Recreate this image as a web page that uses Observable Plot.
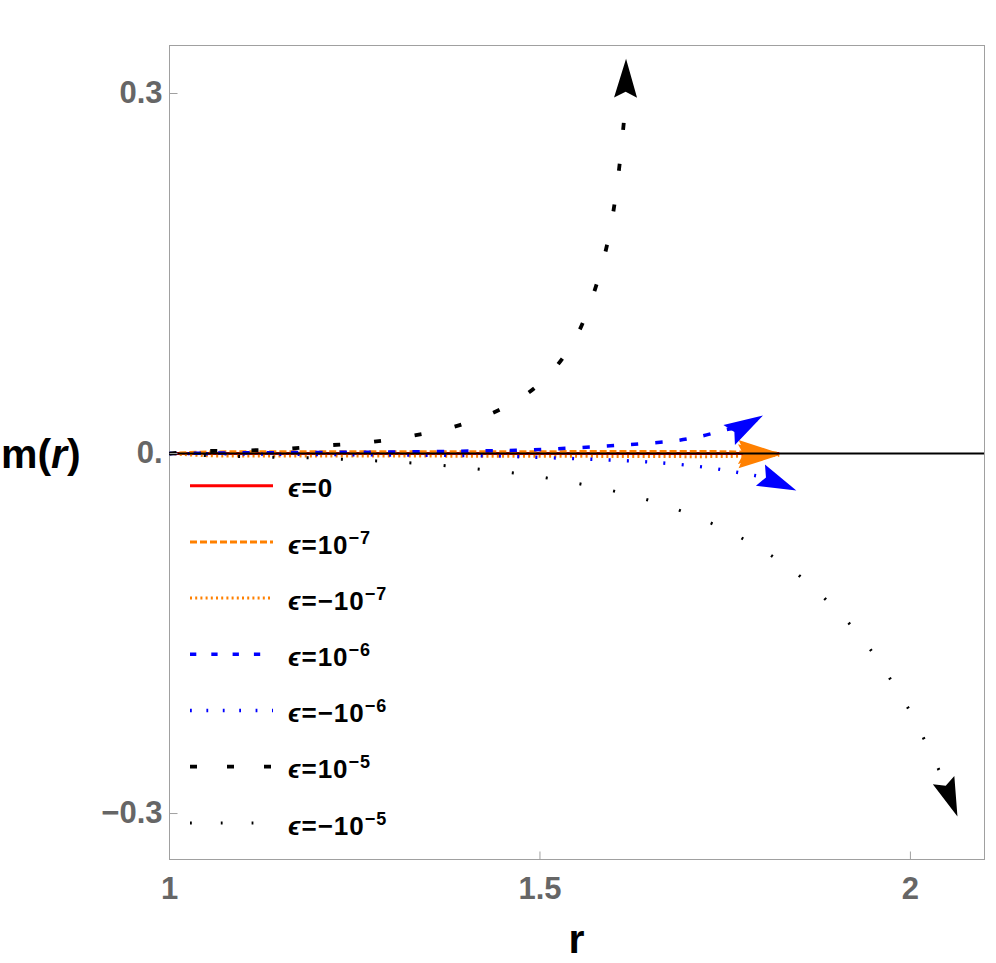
<!DOCTYPE html>
<html><head><meta charset="utf-8">
<script src="https://cdn.jsdelivr.net/npm/d3@7"></script>
<script src="https://cdn.jsdelivr.net/npm/@observablehq/plot@0.6"></script>
<style>
html,body{margin:0;padding:0;background:#fff;}
#chart{width:996px;height:963px;}
svg{display:block;}
</style></head><body><div id="chart"></div>
<script>
// ---- tick values & labels ----
const xTicks = [1, 1.5, 2];
const xTickLabels = ["1", "1.5", "2"];
const yTicks = [-0.3, 0, 0.3];
const yTickLabels = ["\u22120.3", "0.", "0.3"];

// ---- legend ----
const legendBase = ["0", "10", "\u221210", "10", "\u221210", "10", "\u221210"];
const legendExp  = ["", "\u22127", "\u22127", "\u22126", "\u22126", "\u22125", "\u22125"];

// ---- series data (r, m(r)) ----
const r_e0 = [1, 1.823];
const m_e0 = [0, 0];

const r_p7 = [1, 1.05, 1.2, 1.4, 1.6, 1.75, 1.823];
const m_p7 = [0, 0.0012, 0.0014, 0.0015, 0.0016, 0.0015, 0.0003];

const r_n7 = [1, 1.05, 1.2, 1.4, 1.6, 1.75, 1.823];
const m_n7 = [0, -0.0018, -0.002, -0.0022, -0.0024, -0.0025, -0.0015];

const r_p6 = [1, 1.1, 1.2, 1.3, 1.424, 1.489, 1.555, 1.622, 1.687, 1.72, 1.751, 1.776, 1.801];
const m_p6 = [0, 0.0006, 0.0009, 0.0013, 0.0022, 0.003, 0.005, 0.0075, 0.011, 0.0148, 0.0198, 0.0228, 0.0317];

const r_n6 = [1, 1.1, 1.2, 1.3, 1.427, 1.503, 1.577, 1.651, 1.726, 1.775, 1.81, 1.846];
const m_n6 = [0, -0.0004, -0.0008, -0.0012, -0.0019, -0.0033, -0.005, -0.0072, -0.0117, -0.0167, -0.0213, -0.0308];

const r_p5 = [1, 1.046, 1.103, 1.157, 1.212, 1.267, 1.322, 1.375, 1.427, 1.476, 1.517, 1.549, 1.570, 1.586, 1.597, 1.605, 1.611, 1.6155, 1.6162];
const m_p5 = [0, 0.0019, 0.0025, 0.0039, 0.0067, 0.0092, 0.0142, 0.0208, 0.0314, 0.0469, 0.069, 0.0975, 0.129, 0.162, 0.194, 0.228, 0.262, 0.295, 0.329];

const r_n5 = [1, 1.052, 1.100, 1.146, 1.193, 1.240, 1.286, 1.333, 1.380, 1.426, 1.473, 1.519, 1.565, 1.612, 1.657, 1.701, 1.744, 1.785, 1.825, 1.862, 1.896, 1.928, 1.956, 1.981, 2.005, 2.026, 2.045, 2.0635];
const m_n5 = [0, -0.0017, -0.0025, -0.0031, -0.0036, -0.005, -0.0064, -0.0081, -0.0106, -0.0136, -0.0169, -0.0214, -0.0267, -0.0331, -0.0408, -0.0503, -0.0617, -0.0748, -0.0903, -0.108, -0.128, -0.149, -0.172, -0.196, -0.221, -0.248, -0.2725, -0.3025];

// ---- styles ----
const seriesR = [r_e0, r_p7, r_n7, r_p6, r_n6, r_p5, r_n5];
const seriesM = [m_e0, m_p7, m_n7, m_p6, m_n6, m_p5, m_n5];
const seriesColor = ["#ff0000", "#ff8000", "#ff8000", "#0000ff", "#0000ff", "#000000", "#000000"];
const seriesWidth = [3, 3, 3, 3.5, 3.4, 3.8, 3];
const seriesDash = [null, "7,3", "2,3.2", "7.3,17", "2,16.3", "7,34", "2,32.3"];
const legendDash = [null, "7,3", "2,3.2", "6.3,15", "1.8,14.6", "7,30", "1.8,29"];

const tables = seriesR.map((rs, k) => rs.map((r, i) => ({r, m: seriesM[k][i]})));

function arrowSymbol(theta, L = 40, W = 24, N = 6) {
  const c = Math.cos(theta), s = Math.sin(theta);
  const pts = [[0, 0], [-L, -W / 2], [-L + N, 0], [-L, W / 2]].map(([x, y]) => [x * c - y * s, x * s + y * c]);
  return {draw(ctx) { ctx.moveTo(pts[0][0], pts[0][1]); for (let i = 1; i < pts.length; i++) ctx.lineTo(pts[i][0], pts[i][1]); ctx.closePath(); }};
}
const tickLeft = {draw(ctx) { ctx.moveTo(0, 0); ctx.lineTo(8, 0); }};
const tickBottom = {draw(ctx) { ctx.moveTo(0, 0); ctx.lineTo(0, -8); }};

function build(angles) {
  const marks = [];
  tables.forEach((t, k) => {
    marks.push(Plot.line(t, {x: "r", y: "m", stroke: seriesColor[k], strokeWidth: seriesWidth[k],
      strokeDasharray: seriesDash[k] || undefined, strokeLinecap: "butt", strokeLinejoin: "round", curve: "catmull-rom"}));
    if (angles) {
      marks.push(Plot.dot([t[t.length - 1]], {x: "r", y: "m", symbol: arrowSymbol(angles[k], k === 1 || k === 2 ? 41 : 39, k === 1 || k === 2 ? 24 : 23), fill: seriesColor[k], stroke: "none"}));
    }
  });
  return Plot.plot({
    width: 996, height: 963,
    marginLeft: 169, marginRight: 12, marginTop: 45, marginBottom: 104,
    x: {domain: [1, 2.1]},
    y: {domain: [-0.3383, 0.34]},
    style: {fontFamily: "'Liberation Sans', Arial, sans-serif", background: "#fff"},
    marks: [
      Plot.frame({stroke: "#a0a0a0"}),
      Plot.axisX({ticks: xTicks, tickFormat: d => xTickLabels[xTicks.indexOf(d)], tickSize: 0, tickPadding: 17,
        fontSize: 31, fontWeight: "bold", color: "#666", label: null}),
      Plot.axisY({ticks: yTicks, tickFormat: d => yTickLabels[yTicks.indexOf(d)], tickSize: 0, tickPadding: 7,
        fontSize: 31, fontWeight: "bold", color: "#666", label: null}),
      ...marks,
      Plot.ruleY([0], {stroke: "#000", strokeWidth: 2}),
      Plot.dot(yTicks, {y: d => d, frameAnchor: "left", symbol: tickLeft, stroke: "#a0a0a0", fill: "none", strokeWidth: 1}),
      Plot.dot(xTicks, {x: d => d, frameAnchor: "bottom", symbol: tickBottom, stroke: "#a0a0a0", fill: "none", strokeWidth: 1})
    ]
  });
}

// first pass: obtain scales to orient arrowheads along the last curve segment
const p0 = build(null);
const sx = p0.scale("x"), sy = p0.scale("y");
const angles = tables.map(t => {
  const a = t[t.length - 2], b = t[t.length - 1];
  return Math.atan2(sy.apply(b.m) - sy.apply(a.m), sx.apply(b.r) - sx.apply(a.r));
});
const chart = build(angles);
document.getElementById("chart").appendChild(chart);

// axis titles and legend
const svg = d3.select(chart);
const font = "'Liberation Sans', Arial, sans-serif";
const ml = svg.append("text").attr("x", 1).attr("y", 468).attr("text-anchor", "start").attr("font-family", font)
  .attr("font-size", 41).attr("font-weight", "bold").attr("fill", "#000");
ml.append("tspan").text("m(");
ml.append("tspan").attr("font-style", "italic").text("r");
ml.append("tspan").text(")");
svg.append("text").attr("x", (169 + 984) / 2).attr("y", 953).attr("text-anchor", "middle")
  .attr("font-family", font).attr("font-size", 41).attr("font-weight", "bold").attr("fill", "#000").text("r");

const lg = svg.append("g").attr("text-anchor", "start");
legendBase.forEach((b, i) => {
  const y = 485.7 + 56.2 * i;
  const ln = lg.append("line").attr("x1", 190).attr("x2", 273).attr("y1", y).attr("y2", y)
    .attr("stroke", seriesColor[i]).attr("stroke-width", seriesWidth[i]);
  if (legendDash[i]) ln.attr("stroke-dasharray", legendDash[i]);
  const t = lg.append("text").attr("x", 288).attr("y", y + 11.6).attr("text-anchor", "start").attr("font-family", font)
    .attr("font-size", 26).attr("font-weight", "bold").attr("fill", "#000").attr("letter-spacing", 1);
  t.append("tspan").attr("font-style", "italic").text("\u03f5");
  t.append("tspan").text("=" + b);
  if (legendExp[i]) t.append("tspan").attr("dy", -10).attr("font-size", 18).text(legendExp[i]);
});
</script></body></html>
